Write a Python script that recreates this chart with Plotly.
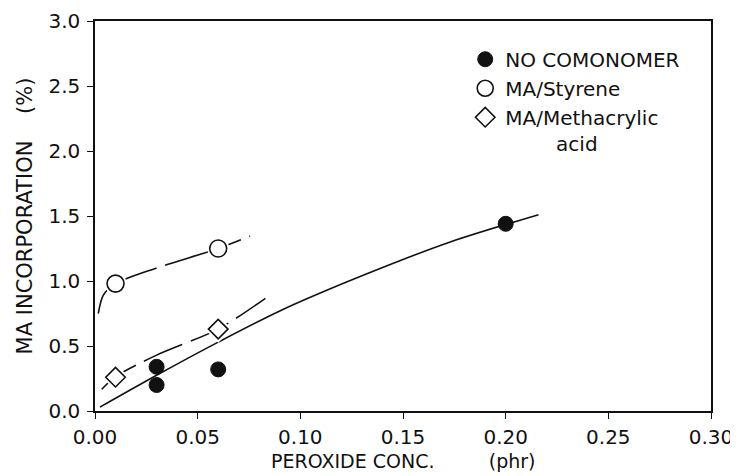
import plotly.graph_objects as go

# ---- data ----
x_ticks = [0.00, 0.05, 0.10, 0.15, 0.20, 0.25, 0.30]
x_tick_labels = ["0.00", "0.05", "0.10", "0.15", "0.20", "0.25", "0.30"]
y_ticks = [0.0, 0.5, 1.0, 1.5, 2.0, 2.5, 3.0]
y_tick_labels = ["0.0", "0.5", "1.0", "1.5", "2.0", "2.5", "3.0"]
x_title = "PEROXIDE CONC." + "\u00a0" * 9 + "(phr)"
y_title = "MA INCORPORATION" + "\u00a0" * 4 + "(%)"

# measured points
nocomo_x = [0.03, 0.03, 0.06, 0.20]
nocomo_y = [0.34, 0.20, 0.32, 1.44]
styrene_x = [0.01, 0.06]
styrene_y = [0.98, 1.25]
methac_x = [0.01, 0.06]
methac_y = [0.26, 0.63]

# hand-drawn fit curves
nocomo_fit_x = [0.0024, 0.03, 0.06, 0.09, 0.13, 0.173, 0.216]
nocomo_fit_y = [0.03, 0.275, 0.53, 0.77, 1.04, 1.30, 1.51]
styrene_fit_x = [0.0016, 0.004, 0.01, 0.03, 0.06, 0.0755]
styrene_fit_y = [0.75, 0.89, 0.98, 1.10, 1.25, 1.345]
methac_fit_x = [0.0033, 0.01, 0.03, 0.06, 0.083]
methac_fit_y = [0.167, 0.264, 0.43, 0.63, 0.867]

FONT = "DejaVu Sans"
BLACK = "#111111"

fig = go.Figure()

# fit curves
fig.add_trace(go.Scatter(x=nocomo_fit_x, y=nocomo_fit_y, mode="lines",
                         line=dict(color=BLACK, width=1.6, shape="spline", smoothing=0.8),
                         showlegend=False, hoverinfo="skip"))
fig.add_trace(go.Scatter(x=styrene_fit_x, y=styrene_fit_y, mode="lines",
                         line=dict(color=BLACK, width=1.6, shape="spline", smoothing=0.8,
                                   dash="80px,9px"),
                         showlegend=False, hoverinfo="skip"))
fig.add_trace(go.Scatter(x=methac_fit_x, y=methac_fit_y, mode="lines",
                         line=dict(color=BLACK, width=1.6, shape="spline", smoothing=0.8,
                                   dash="42px,9px"),
                         showlegend=False, hoverinfo="skip"))

# white halos behind open markers (gap in the curves)
fig.add_trace(go.Scatter(x=styrene_x, y=styrene_y, mode="markers",
                         marker=dict(symbol="circle", size=22, color="white"),
                         showlegend=False, hoverinfo="skip"))
fig.add_trace(go.Scatter(x=methac_x, y=methac_y, mode="markers",
                         marker=dict(symbol="diamond", size=21, color="white"),
                         showlegend=False, hoverinfo="skip"))

# data markers (legend entries)
fig.add_trace(go.Scatter(x=nocomo_x, y=nocomo_y, mode="markers", name="NO COMONOMER",
                         legendgroup="a",
                         marker=dict(symbol="circle", size=15, color=BLACK,
                                     line=dict(color=BLACK, width=1))))
fig.add_trace(go.Scatter(x=styrene_x, y=styrene_y, mode="markers", name="MA/Styrene",
                         legendgroup="b",
                         marker=dict(symbol="circle-open", size=17, color=BLACK,
                                     line=dict(width=1.6))))
fig.add_trace(go.Scatter(x=methac_x, y=methac_y, mode="markers",
                         name="MA/Methacrylic<br>" + "\u00a0" * 8 + "acid",
                         legendgroup="c",
                         marker=dict(symbol="diamond-open", size=15, color=BLACK,
                                     line=dict(width=1.6))))

axis_common = dict(showgrid=False, zeroline=False, color=BLACK, automargin=False)

# the page adds an 8px body margin, so the figure is 8px smaller and offset
fig.update_layout(
    width=730, height=468,
    margin=dict(l=87, r=27, t=13, b=65),
    paper_bgcolor="white", plot_bgcolor="white",
    font=dict(family=FONT, color=BLACK),
    showlegend=True,
    legend=dict(x=0.601, y=0.952, xanchor="left", yanchor="top",
                font=dict(size=20, family=FONT), bgcolor="rgba(0,0,0,0)",
                tracegroupgap=0, valign="top"),
    xaxis=dict(range=[0, 0.30], tickvals=x_ticks, ticktext=x_tick_labels,
               ticks="outside", ticklen=6, tickwidth=1.3, tickcolor=BLACK,
               showline=True, linewidth=1.5, linecolor=BLACK, mirror=True,
               tickfont=dict(size=20), ticklabelstandoff=1,
               **axis_common),
    yaxis=dict(range=[0, 3.0], tickvals=y_ticks, ticktext=y_tick_labels,
               ticks="outside", ticklen=6, tickwidth=1.3, tickcolor=BLACK,
               showline=True, linewidth=1.5, linecolor=BLACK, mirror=True,
               tickfont=dict(size=20), ticklabelstandoff=3,
               title=dict(text=y_title, font=dict(size=21), standoff=10),
               **axis_common),
    xaxis2=dict(overlaying="x", anchor="y", side="bottom", range=[0, 0.30],
                tickvals=x_ticks[1:-1], ticks="inside", ticklen=5, tickwidth=1.3,
                tickcolor=BLACK, showticklabels=False, showline=False, **axis_common),
    yaxis2=dict(overlaying="y", anchor="x", side="left", range=[0, 3.0],
                tickvals=y_ticks[1:-1], ticks="inside", ticklen=4, tickwidth=1.3,
                tickcolor=BLACK, showticklabels=False, showline=False, **axis_common),
    annotations=[dict(text=x_title, xref="paper", yref="paper", x=0.5, y=-0.128,
                      xanchor="center", yanchor="middle", showarrow=False,
                      font=dict(size=19, family=FONT, color=BLACK))],
)

fig.write_html("out.html")
